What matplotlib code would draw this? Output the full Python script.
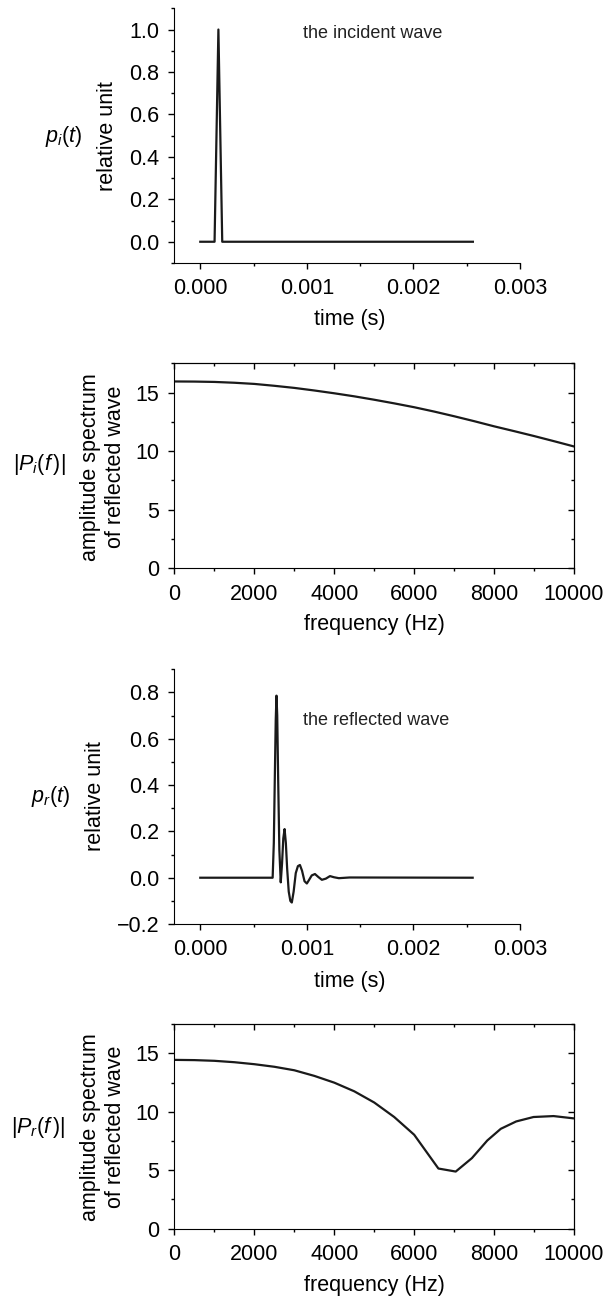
import matplotlib
matplotlib.use('Agg')
import matplotlib.pyplot as plt
from matplotlib.ticker import MultipleLocator

plt.rcParams['font.family'] = ['Liberation Sans', 'DejaVu Sans']
plt.rcParams['mathtext.fontset'] = 'custom'
plt.rcParams['mathtext.rm'] = 'Liberation Sans'
plt.rcParams['mathtext.it'] = 'Liberation Sans:italic'
plt.rcParams['axes.unicode_minus'] = True

# incident pulse (time in s, relative unit)
t_inc = [0.0, 0.000134, 0.000170, 0.000206, 0.002558]
p_inc = [0.0, 0.0, 1.0, 0.0, 0.0]

# spectrum of incident pulse
f_inc = [0, 500, 1000, 1500, 2000, 2500, 3000, 3500, 4000, 4500, 5000, 5500, 6000,
         6500, 7000, 7500, 8000, 8500, 9000, 9500, 10000]
P_inc = [15.95, 15.94, 15.91, 15.84, 15.74, 15.58, 15.40, 15.18, 14.94, 14.68, 14.39,
         14.08, 13.75, 13.38, 12.98, 12.56, 12.12, 11.71, 11.29, 10.85, 10.40]

# reflected wave
t_ref = [0.0, 0.000679, 0.000690, 0.000700, 0.000708, 0.000715, 0.000722, 0.000731,
         0.000742, 0.000755, 0.000767, 0.000779, 0.000791, 0.000803, 0.000815,
         0.000830, 0.000845, 0.000859, 0.000876, 0.000896, 0.000916, 0.000935,
         0.000955, 0.000978, 0.001000, 0.001020, 0.001046, 0.001076, 0.001108,
         0.001141, 0.001178, 0.001217, 0.001255, 0.00130, 0.00140, 0.002556]
p_ref = [0.0, 0.0, 0.15, 0.45, 0.68, 0.786, 0.70, 0.42, 0.12, -0.02, 0.06, 0.17,
         0.21, 0.15, 0.04, -0.06, -0.10, -0.107, -0.06, 0.02, 0.05, 0.055, 0.03,
         -0.015, -0.025, -0.01, 0.01, 0.016, 0.003, -0.009, -0.004, 0.007, 0.002,
         -0.002, 0.001, 0.0]

# spectrum of reflected wave
f_ref = [0, 500, 1000, 1500, 2000, 2500, 3000, 3500, 4000, 4500, 5000, 5500, 6000,
         6606, 7040, 7445, 7830, 8168, 8553, 8987, 9489, 10000]
P_ref = [14.45, 14.43, 14.37, 14.25, 14.08, 13.86, 13.56, 13.08, 12.50, 11.76, 10.80,
         9.56, 8.04, 5.15, 4.89, 6.04, 7.55, 8.55, 9.18, 9.56, 9.64, 9.44]

fig = plt.figure(figsize=(6.04, 12.98), dpi=100)
TICK = 15.5
LAB = 15.5
LW = 1.6
PAD = 7


def set_ticks(ax):
    ax.tick_params(which='both', direction='out', labelsize=TICK, width=1, pad=PAD)
    ax.tick_params(which='major', length=4)
    ax.tick_params(which='minor', length=2.5)


def style_time(ax, ylo, yhi):
    ax.spines['top'].set_visible(False)
    ax.spines['right'].set_visible(False)
    ax.set_xlim(-0.000242, 0.003)
    ax.set_ylim(ylo, yhi)
    ax.xaxis.set_major_locator(MultipleLocator(0.001))
    ax.xaxis.set_minor_locator(MultipleLocator(0.0005))
    ax.yaxis.set_major_locator(MultipleLocator(0.2))
    ax.yaxis.set_minor_locator(MultipleLocator(0.1))
    ax.xaxis.set_major_formatter(plt.FuncFormatter(lambda v, p: '%.3f' % v))
    ax.yaxis.set_major_formatter(plt.FuncFormatter(
        lambda v, p: ('%.1f' % v).replace('-', '\u2212') if abs(v) > 1e-9 else '0.0'))
    set_ticks(ax)


def style_freq(ax, ylo, yhi):
    ax.set_xlim(0, 10000)
    ax.set_ylim(ylo, yhi)
    ax.xaxis.set_major_locator(MultipleLocator(2000))
    ax.xaxis.set_minor_locator(MultipleLocator(1000))
    ax.yaxis.set_major_locator(MultipleLocator(5))
    ax.yaxis.set_minor_locator(MultipleLocator(2.5))
    set_ticks(ax)
    top = ax.secondary_xaxis('top')
    top.xaxis.set_major_locator(MultipleLocator(2000))
    top.xaxis.set_minor_locator(MultipleLocator(1000))
    top.tick_params(which='both', direction='in', labeltop=False, width=1)
    top.tick_params(which='major', length=4)
    top.tick_params(which='minor', length=2.5)
    right = ax.secondary_yaxis('right')
    right.yaxis.set_major_locator(MultipleLocator(5))
    right.yaxis.set_minor_locator(MultipleLocator(2.5))
    right.tick_params(which='both', direction='in', labelright=False, width=1)
    right.tick_params(which='major', length=4)
    right.tick_params(which='minor', length=2.5)


L, R1, R2 = 0.2889, 0.8609, 0.9503

# panel 1
ax1 = fig.add_axes([L, 0.7974, R1 - L, 0.9936 - 0.7974])
ax1.plot(t_inc, p_inc, color='#1a1a1a', lw=LW)
style_time(ax1, -0.1, 1.1)
ax1.text(0.000965, 0.981, 'the incident wave', fontsize=13, va='center', ha='left',
         color='#222222')
fig.text(0.1786, 0.8952, 'relative unit', rotation=90, ha='center', va='center', fontsize=LAB)
fig.text(0.1053, 0.8945, r'$p_i(t)$', ha='center', va='center', fontsize=LAB)
fig.text(0.5791, 0.7535, 'time (s)', ha='center', va='center', fontsize=LAB)

# panel 2
ax2 = fig.add_axes([L, 0.5622, R2 - L, 0.7201 - 0.5622])
ax2.plot(f_inc, P_inc, color='#1a1a1a', lw=LW)
style_freq(ax2, 0, 17.5)
fig.text(0.1705, 0.6405, 'amplitude spectrum\nof reflected wave', rotation=90,
         ha='center', va='center', fontsize=LAB, linespacing=1.25)
fig.text(0.0657, 0.6418, r'$|P_i(f\,)|$', ha='center', va='center', fontsize=LAB)
fig.text(0.620, 0.5185, 'frequency (Hz)', ha='center', va='center', fontsize=LAB)

# panel 3
ax3 = fig.add_axes([L, 0.2881, R1 - L, 0.4844 - 0.2881])
ax3.plot(t_ref, p_ref, color='#1a1a1a', lw=LW)
style_time(ax3, -0.2, 0.9)
ax3.text(0.000964, 0.68, 'the reflected wave', fontsize=13, va='center', ha='left',
         color='#222222')
fig.text(0.1575, 0.3869, 'relative unit', rotation=90, ha='center', va='center', fontsize=LAB)
fig.text(0.0842, 0.386, r'$p_r(t)$', ha='center', va='center', fontsize=LAB)
fig.text(0.5791, 0.2442, 'time (s)', ha='center', va='center', fontsize=LAB)

# panel 4
ax4 = fig.add_axes([L, 0.0534, R2 - L, 0.2109 - 0.0534])
ax4.plot(f_ref, P_ref, color='#1a1a1a', lw=LW)
style_freq(ax4, 0, 17.5)
fig.text(0.1705, 0.132, 'amplitude spectrum\nof reflected wave', rotation=90,
         ha='center', va='center', fontsize=LAB, linespacing=1.25)
fig.text(0.0638, 0.1317, r'$|P_r(f\,)|$', ha='center', va='center', fontsize=LAB)
fig.text(0.620, 0.010, 'frequency (Hz)', ha='center', va='center', fontsize=LAB)

fig.savefig('out.png', dpi=100)
